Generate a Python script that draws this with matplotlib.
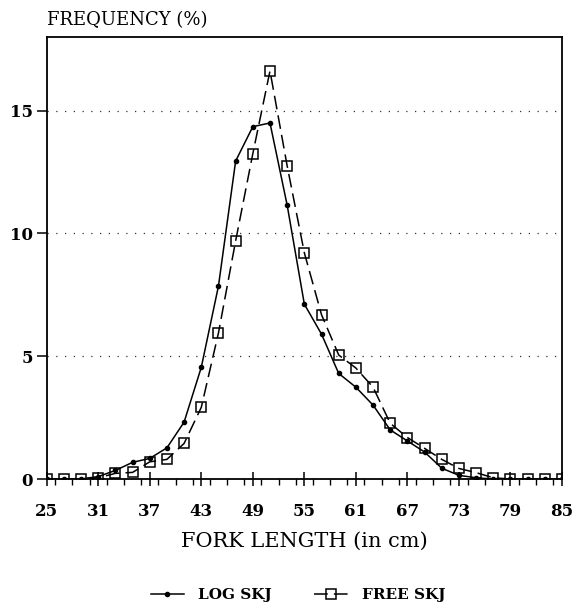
import matplotlib
matplotlib.use("Agg")
import matplotlib.pyplot as plt
from matplotlib.ticker import MultipleLocator

# fork length classes (cm)
lengths = list(range(25, 87, 2))

log_skj = [0, 0, 0, 0.1, 0.35, 0.68, 0.84, 1.27, 2.32, 4.55, 7.86, 12.95, 14.35,
           14.5, 11.15, 7.12, 5.9, 4.3, 3.74, 3.01, 2.0, 1.55, 1.1, 0.44, 0.15,
           0.05, 0, 0, 0, 0, 0]
free_skj = [0, 0, 0, 0.05, 0.23, 0.27, 0.7, 0.8, 1.45, 2.92, 5.95, 9.7, 13.25,
            16.62, 12.75, 9.21, 6.69, 5.05, 4.52, 3.74, 2.27, 1.69, 1.25, 0.8,
            0.43, 0.26, 0.05, 0, 0, 0, 0]

xticks = list(range(25, 86, 6))
yticks = [0, 5, 10, 15]

serif = "DejaVu Serif"

fig = plt.figure(figsize=(5.73, 6.11), dpi=100)
ax = fig.add_axes([0.0815, 0.216, 0.8993, 0.7234])

ax.plot(lengths, log_skj, color="black", lw=1.1, marker="o", markersize=3,
        label="LOG SKJ")
ax.plot(lengths, free_skj, color="black", lw=1.1, dashes=(9, 4), marker="s",
        markersize=6.5, markerfacecolor="none", markeredgewidth=1.1,
        label="FREE SKJ")

for y in yticks[1:]:
    ax.axhline(y, color="#333333", lw=0.9, linestyle=(0, (1, 6)), zorder=0)

ax.set_xlim(25, 85)
ax.set_ylim(0, 18)
ax.set_xticks(xticks)
ax.xaxis.set_minor_locator(MultipleLocator(2))
ax.set_yticks(yticks)

for sp in ax.spines.values():
    sp.set_linewidth(1.3)

ax.tick_params(axis="x", which="major", direction="inout", length=10, width=1.1,
               pad=12, labelsize=12)
ax.tick_params(axis="x", which="minor", direction="out", length=4, width=1.0)
ax.tick_params(axis="y", which="major", direction="out", length=7, width=1.1,
               pad=3, labelsize=12)
for lab in ax.get_xticklabels() + ax.get_yticklabels():
    lab.set_fontfamily(serif)
    lab.set_fontweight("bold")

fig.text(0.082, 0.967, "FREQUENCY (%)", fontfamily=serif, fontsize=13,
         ha="left", va="center")
ax.set_xlabel("FORK LENGTH (in cm)", fontfamily=serif, fontsize=15, labelpad=9)

fig.legend(loc="center", bbox_to_anchor=(0.52, 0.026), ncol=2, frameon=False,
           prop={"family": serif, "weight": "bold", "size": 11},
           handlelength=2.2, columnspacing=2.8, handletextpad=0.9)

fig.savefig("out.png", dpi=100)
